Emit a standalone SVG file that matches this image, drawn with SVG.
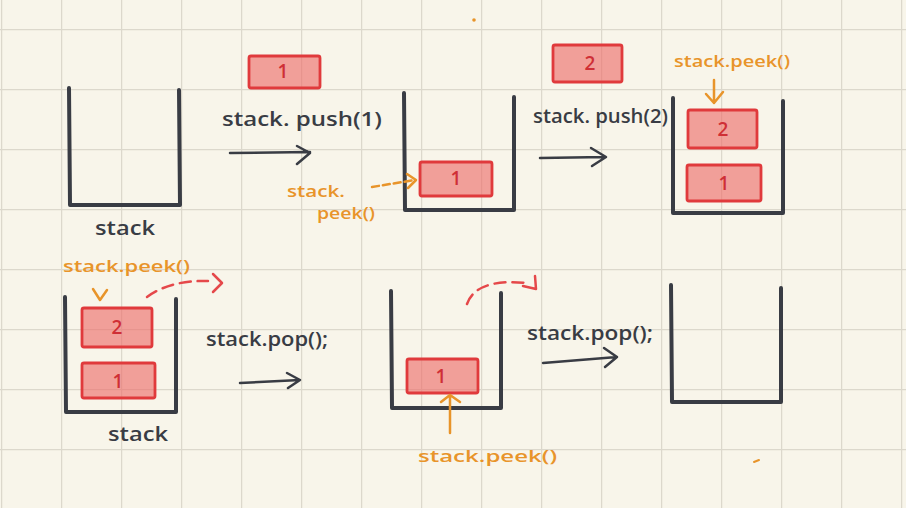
<svg xmlns="http://www.w3.org/2000/svg" width="906" height="508" viewBox="0 0 906 508">
<defs>
<pattern id="grid" x="1" y="29" width="60" height="60" patternUnits="userSpaceOnUse">
<path d="M0,0 H60 M0,0 V60" fill="none" stroke="#dcd8cc" stroke-width="2.5"/>
</pattern>
<style>
.stk{fill:none;stroke:#393c44;stroke-width:4;stroke-linecap:round;stroke-linejoin:round}
.blk{fill:#ee6a68;fill-opacity:0.62;stroke:#e03a3c;stroke-width:2.8;stroke-linejoin:round}
.num{font-family:"Open Sans","DejaVu Sans",sans-serif;font-size:19px;font-weight:600;fill:#cf2f36;text-anchor:middle}
.ink{font-family:"Open Sans","DejaVu Sans",sans-serif;font-size:20px;font-weight:600;fill:#393c44}
.ora{font-family:"Open Sans","DejaVu Sans",sans-serif;font-size:17px;font-weight:600;fill:#e8942a}
.arr{fill:none;stroke:#393c44;stroke-width:2.5;stroke-linecap:round;stroke-linejoin:round}
.oarr{fill:none;stroke:#e8942a;stroke-width:2.5;stroke-linecap:round;stroke-linejoin:round}
.rarr{fill:none;stroke:#e5484a;stroke-width:2.5;stroke-linecap:round;stroke-linejoin:round}
</style>
</defs>
<rect width="906" height="508" fill="#f8f5ea"/>
<rect width="906" height="508" fill="url(#grid)"/>
<circle cx="474" cy="20" r="1.8" fill="#e8942a"/>
<path d="M754,462 L759,460" stroke="#e8942a" stroke-width="2" stroke-linecap="round"/>

<g id="stack1">
<path class="stk" d="M69,88 L70,205 L180,205 L179,90"/>
<text class="ink" x="95" y="235" textLength="60" lengthAdjust="spacingAndGlyphs">stack</text>
</g>

<g id="block-push1">
<rect class="blk" x="249" y="56" width="71" height="32" rx="2"/>
<text class="num" x="283" y="78">1</text>
</g>
<text class="ink" x="222" y="126" textLength="160" lengthAdjust="spacingAndGlyphs">stack. push(1)</text>

<g id="stack2">
<path class="stk" d="M404,93 L405,210 L514,210 L514,97"/>
<rect class="blk" x="420" y="162" width="72" height="34" rx="2"/>
<text class="num" x="456" y="185">1</text>
</g>
<text class="ora" x="287" y="197" textLength="58" lengthAdjust="spacingAndGlyphs">stack.</text>
<text class="ora" x="317" y="219" textLength="58" lengthAdjust="spacingAndGlyphs">peek()</text>

<g id="block-push2">
<rect class="blk" x="553" y="45" width="69" height="37" rx="2"/>
<text class="num" x="590" y="70">2</text>
</g>
<text class="ink" x="533" y="123" textLength="135" lengthAdjust="spacingAndGlyphs">stack. push(2)</text>

<g id="stack3">
<path class="stk" d="M673,98 L673,213 L783,213 L783,101"/>
<rect class="blk" x="688" y="110" width="69" height="38" rx="2"/>
<text class="num" x="723" y="136">2</text>
<rect class="blk" x="687" y="165" width="74" height="36" rx="2"/>
<text class="num" x="724" y="190">1</text>
</g>
<text class="ora" x="674" y="67" textLength="116" lengthAdjust="spacingAndGlyphs">stack.peek()</text>

<g id="stack4">
<path class="stk" d="M65,297 L66,412 L176,412 L176,299"/>
<rect class="blk" x="82" y="308" width="70" height="39" rx="2"/>
<text class="num" x="117" y="334">2</text>
<rect class="blk" x="82" y="363" width="73" height="35" rx="2"/>
<text class="num" x="118" y="388">1</text>
<text class="ink" x="108" y="441" textLength="60" lengthAdjust="spacingAndGlyphs">stack</text>
</g>
<text class="ora" x="63" y="272" textLength="127" lengthAdjust="spacingAndGlyphs">stack.peek()</text>
<text class="ink" x="206" y="346" textLength="122" lengthAdjust="spacingAndGlyphs">stack.pop();</text>

<g id="stack5">
<path class="stk" d="M391,291 L392,408 L501,408 L501,293"/>
<rect class="blk" x="407" y="359" width="71" height="34" rx="2"/>
<text class="num" x="441" y="383">1</text>
</g>
<text class="ora" x="418" y="462" textLength="139" lengthAdjust="spacingAndGlyphs">stack.peek()</text>
<text class="ink" x="527" y="340" textLength="126" lengthAdjust="spacingAndGlyphs">stack.pop();</text>

<g id="stack6">
<path class="stk" d="M671,285 L672,402 L781,402 L781,288"/>
</g>

<g id="connectors">
<path class="arr" d="M230,153 L310,152 M297,146 L310,153 L297,164"/>
<path class="arr" stroke-width="4" d="M540,158 L605,157 M591,148 L606,157 L592,166"/>
<path class="arr" d="M240,383 L300,380 M287,373 L300,380 L288,388"/>
<path class="arr" d="M543,363 L617,357 M604,348 L617,357 L605,367"/>
<path class="oarr" stroke-dasharray="7,4" d="M372,187 L415,180"/>
<path class="oarr" d="M407,174 L416,180 L408,188"/>
<path class="oarr" d="M714,80 L714,103 M706,94 L714,103 L723,92"/>
<path class="oarr" d="M93,289 L100,300 L107,290"/>
<path class="oarr" d="M450,433 L450,396 M441,402 L450,395 L460,402"/>
<path class="rarr" stroke-dasharray="11,7" d="M147,297 Q170,280 208,281"/>
<path class="rarr" d="M213,274 L222,283 L213,292"/>
<path class="rarr" stroke-dasharray="11,7" d="M467,304 Q476,278 527,283"/>
<path class="rarr" d="M523,286 L536,289 L535,276"/>
</g>
</svg>
